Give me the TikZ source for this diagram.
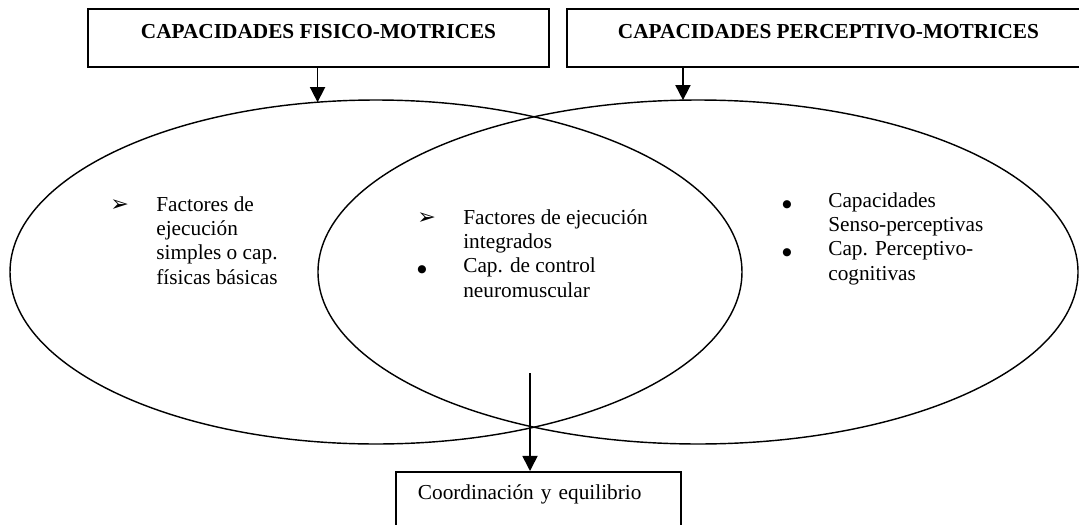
\documentclass[tikz,border=0pt]{standalone}
\usepackage{fontspec}
\setmainfont{Liberation Serif}
\newfontfamily\dingfont{DejaVu Sans}
\usetikzlibrary{shapes.geometric,arrows.meta}
\newcommand{\flechita}{{\dingfont\fontsize{12.5}{12.5}\selectfont ➢}}
\newcommand{\punto}{{\dingfont\fontsize{6}{6}\selectfont ●}}

\begin{document}
\begin{tikzpicture}[x=0.5634pt, y=-0.5634pt,
  every node/.style={font=\fontsize{12}{13.8}\selectfont},
  caja/.style={draw, line width=1pt, inner sep=0pt, text height=16.9pt, text depth=15.8pt, font=\fontsize{12}{13.8}\selectfont\bfseries},
  ovalo/.style={draw, ellipse, line width=0.8pt, inner sep=0pt, outer sep=0pt},
  lista/.style={inner sep=0pt, anchor=base west},
  flecha/.style={-{Triangle[length=8.5pt,width=8.5pt]}, line width=0.9pt}]
\clip (0,0) rectangle (1079,524);

% the two groups of capacities
\node[caja, minimum width=259.7pt] (fisico) at (318.5,38) {CAPACIDADES FISICO-MOTRICES};
\node[caja, minimum width=294.7pt] (percep) at (828.5,38) {CAPACIDADES PERCEPTIVO-MOTRICES};

% overlapping ellipses
\node[ovalo, minimum width=412.4pt, minimum height=193.8pt] (efis) at (376,272) {};
\node[ovalo, minimum width=428.2pt, minimum height=193.8pt] (eper) at (698,272) {};

\draw[flecha] (fisico.south -| efis.109) -- (efis.109);
\draw[flecha] (percep.south -| eper.95) -- (eper.95);

% contents
\node[lista] (tfis) at (110,211) {\begin{tabular}[t]{@{}p{25.9pt}@{}l@{}}
\flechita & Factores de\\
 & ejecución\\
 & simples o cap.\\
 & físicas básicas
\end{tabular}};
\node[lista] (tint) at (417,224) {\begin{tabular}[t]{@{}p{25.9pt}@{}l@{}}
\flechita & Factores de ejecución\\
 & integrados\\
\punto & Cap. de control\\
 & neuromuscular
\end{tabular}};
\node[lista] (tper) at (782,207) {\begin{tabular}[t]{@{}p{25.9pt}@{}l@{}}
\punto & Capacidades\\
 & Senso-perceptivas\\
\punto & Cap. Perceptivo-\\
 & cognitivas
\end{tabular}};

% result
\node[draw, line width=1pt, anchor=north west, inner xsep=12.4pt, inner ysep=0pt,
  text width=135.8pt, align=left, text height=15.8pt, text depth=20pt] (coord) at (395,471)
  {Coordinación y equilibrio};
\coordinate (inicio) at (530,373);
\draw[flecha] (inicio) -- (inicio |- coord.north);

\end{tikzpicture}
\end{document}
